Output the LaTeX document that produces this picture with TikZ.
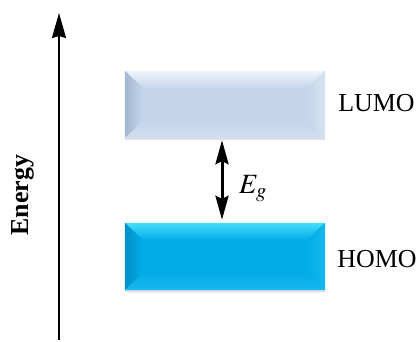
\documentclass[tikz,border=0pt]{standalone}
\usepackage{mathptmx}
\usepackage{fontspec}
\setmainfont{Liberation Serif}
\usetikzlibrary{arrows.meta,shadows}
\definecolor{LUMOface}{HTML}{C5D6EB}
\definecolor{LUMOtop}{HTML}{EEF4FB}
\definecolor{LUMOleft}{HTML}{A3B7D2}
\definecolor{LUMOright}{HTML}{D5E2F2}
\definecolor{LUMObottom}{HTML}{D0DEF0}
\definecolor{HOMOface}{HTML}{02ACE8}
\definecolor{HOMOtop}{HTML}{45DEFA}
\definecolor{HOMOleft}{HTML}{0090C9}
\definecolor{HOMOright}{HTML}{12B9EE}
\definecolor{HOMObottom}{HTML}{1AB8EE}

\begin{document}
\begin{tikzpicture}[x=1bp,y=1bp,font=\fontsize{26}{30}\selectfont,
    orbital/.style n args={5}{minimum width=200bp,minimum height=67bp,inner sep=0pt,fill=#1,
      drop shadow={shadow xshift=0bp,shadow yshift=-2bp,opacity=0.25},
      path picture={
        \coordinate (bnw) at (path picture bounding box.north west);
        \coordinate (bne) at (path picture bounding box.north east);
        \coordinate (bsw) at (path picture bounding box.south west);
        \coordinate (bse) at (path picture bounding box.south east);
        \shade[top color=#2,bottom color=#1] (bnw) -- (bne) -- ([shift={(-18,-17)}]bne) -- ([shift={(18,-17)}]bnw) -- cycle;
        \shade[left color=#3,right color=#1] (bnw) -- (bsw) -- ([shift={(18,17)}]bsw) -- ([shift={(18,-17)}]bnw) -- cycle;
        \shade[left color=#1,right color=#4] (bne) -- (bse) -- ([shift={(-18,17)}]bse) -- ([shift={(-18,-17)}]bne) -- cycle;
        \shade[top color=#1,bottom color=#5] (bsw) -- (bse) -- ([shift={(-18,17)}]bse) -- ([shift={(18,17)}]bsw) -- cycle;
      }},
    tip/.style={-{Stealth[length=25bp,width=14bp,inset=2bp]}}]
  \useasboundingbox (0,0) rectangle (419,342);

  % energy axis
  \coordinate (axisbot) at (59,2);
  \coordinate (axistop) at (59,329);
  \draw[line width=2bp,tip] (axisbot) -- (axistop);
  \node[rotate=90,font=\fontsize{26}{30}\selectfont\bfseries] (energy) at (22.5,147) {Energy};

  % frontier orbitals
  \node[orbital={LUMOface}{LUMOtop}{LUMOleft}{LUMOright}{LUMObottom}] (lumo) at (225,237.5) {};
  \node[orbital={HOMOface}{HOMOtop}{HOMOleft}{HOMOright}{HOMObottom}] (homo) at (225,85.5) {};
  \node[anchor=west,inner sep=0pt] (lumolabel) at ([xshift=13bp,yshift=1bp]lumo.east) {LUMO};
  \node[anchor=west,inner sep=0pt] (homolabel) at ([xshift=12bp,yshift=-3bp]homo.east) {HOMO};

  % band gap
  \draw[line width=3bp,{Stealth[length=24bp,width=13bp,inset=3bp]}-{Stealth[length=24bp,width=13bp,inset=3bp]},
    shorten <=2bp,shorten >=3bp] ([xshift=-3bp]lumo.south) -- ([xshift=-3bp]homo.north);
  \node[anchor=base west,inner sep=0pt,font=\fontsize{28}{32}\selectfont] (gap) at (239,149) {$E_g$};
\end{tikzpicture}
\end{document}
